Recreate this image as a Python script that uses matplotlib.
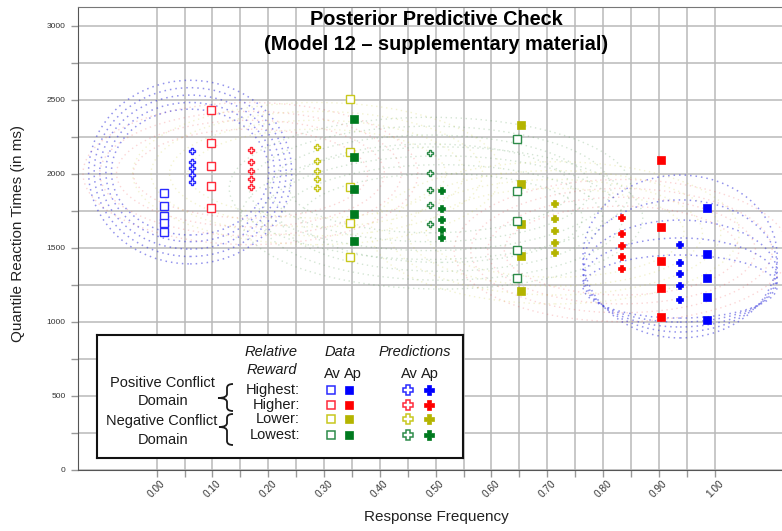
import numpy as np
import matplotlib
matplotlib.use("Agg")
import matplotlib.pyplot as plt
from matplotlib.patches import Ellipse, PathPatch
from matplotlib.path import Path

plt.rcParams["font.family"] = ["Liberation Sans", "DejaVu Sans"]

# ---------------------------------------------------------------- data
reward_levels = ["Highest", "Higher", "Lower", "Lowest"]

# observed quantile RTs (ms) at their response frequencies
data_av_freq = [0.014, 0.097, 0.346, 0.646]
data_av_rt = [
    [1867, 1783, 1711, 1664, 1606],
    [2429, 2204, 2051, 1916, 1769],
    [2503, 2148, 1907, 1664, 1439],
    [2231, 1884, 1680, 1484, 1297],
]
data_ap_freq = [0.987, 0.903, 0.653, 0.354]
data_ap_rt = [
    [1765, 1457, 1293, 1168, 1011],
    [2092, 1637, 1411, 1225, 1033],
    [2330, 1927, 1657, 1445, 1209],
    [2366, 2112, 1898, 1725, 1547],
]

# model predictions
pred_av_freq = [0.063, 0.169, 0.287, 0.490]
pred_av_rt = [
    [2154, 2080, 2035, 1990, 1943],
    [2159, 2078, 2019, 1963, 1911],
    [2177, 2087, 2019, 1963, 1900],
    [2137, 2006, 1889, 1790, 1659],
]
pred_ap_freq = [0.938, 0.833, 0.714, 0.511]
pred_ap_rt = [
    [1518, 1398, 1320, 1243, 1146],
    [1698, 1592, 1513, 1439, 1355],
    [1794, 1693, 1612, 1533, 1461],
    [1882, 1759, 1684, 1619, 1563],
]

# posterior predictive spread: contour rings (centre freq, centre rt,
# half-width in frequency, half-height in ms)
ring_hi_av_freq = [0.060, 0.060, 0.060, 0.060, 0.060]
ring_hi_av_rt = [2010, 2010, 2010, 2010, 2010]
ring_hi_av_hw = [0.182, 0.172, 0.162, 0.151, 0.141]
ring_hi_av_hh = [620, 570, 520, 470, 425]

ring_hi_ap_freq = [0.938, 0.938, 0.938, 0.938, 0.938]
ring_hi_ap_rt = [1440, 1376, 1325, 1281, 1237]
ring_hi_ap_hw = [0.174, 0.174, 0.174, 0.174, 0.174]
ring_hi_ap_hh = [550, 446, 361, 284, 213]

faint_ring_freq = [0.168, 0.833, 0.287, 0.714, 0.490, 0.511]
faint_ring_rt = [2000, 1480, 2000, 1600, 1900, 1700]
faint_ring_level = [1, 1, 2, 2, 3, 3]
faint_ring_hw = [0.30, 0.27, 0.24, 0.21]
faint_ring_hh = [480, 420, 360, 300]

x_ticks = [0.0, 0.1, 0.2, 0.3, 0.4, 0.5, 0.6, 0.7, 0.8, 0.9, 1.0]
y_ticks = [0, 500, 1000, 1500, 2000, 2500, 3000]

# ---------------------------------------------------------------- style
open_col = ["#2a2aff", "#ff2a3a", "#c8c81e", "#2e8b4a"]
fill_col = ["#0000ff", "#ff0000", "#b4b400", "#007a1f"]
ring_col = ["#3b3bdd", "#ee4444", "#c8c830", "#3c8a3c"]

W, H = 782, 531
fig = plt.figure(figsize=(W / 100, H / 100), dpi=100)
ax = fig.add_axes([78 / W, (H - 469.7) / H, (W - 78) / W, (469.7 - 7) / H])
ax.set_xlim(-0.141, 1.1206)
ax.set_ylim(0, 3125)

# grid
ax.set_xticks(x_ticks)
ax.set_xticklabels([f"{v:.2f}" for v in x_ticks], rotation=45,
                   ha="center", va="top", fontsize=7.3, color="#333333")
ax.set_xticks(np.arange(0.05, 1.0, 0.1), minor=True)
ax.set_yticks(y_ticks)
ax.set_yticklabels([str(v) for v in y_ticks], fontsize=6, color="#333333")
ax.set_yticks(np.arange(250, 3001, 500), minor=True)
ax.grid(True, which="both", color="#b9b9b9", lw=1.1, zorder=0)
ax.set_axisbelow(True)
ax.tick_params(axis="both", which="both", length=5, color="#999999", width=1)
ax.tick_params(axis="x", pad=1)
ax.tick_params(axis="y", pad=4)
for s in ("left", "bottom"):
    ax.spines[s].set_color("#555555")
ax.spines["top"].set_color("#777777")
ax.spines["right"].set_visible(False)

dots = (0, (1, 2.6))

# faint rings of the other reward levels
for cx, cy, lev in zip(faint_ring_freq, faint_ring_rt, faint_ring_level):
    for hw, hh in zip(faint_ring_hw, faint_ring_hh):
        scale = 1.0 + 0.1 * (lev - 1)
        ax.add_patch(Ellipse((cx, cy), 2 * hw * scale, 2 * hh, fill=False,
                             ec=ring_col[lev], lw=1.0, ls=dots, alpha=0.22,
                             zorder=1))

# highest-reward rings
for cx, cy, hw, hh in zip(ring_hi_av_freq, ring_hi_av_rt, ring_hi_av_hw, ring_hi_av_hh):
    ax.add_patch(Ellipse((cx, cy), 2 * hw, 2 * hh, fill=False, ec=ring_col[0],
                         lw=1.1, ls=dots, alpha=0.55, zorder=1))
for cx, cy, hw, hh in zip(ring_hi_ap_freq, ring_hi_ap_rt, ring_hi_ap_hw, ring_hi_ap_hh):
    ax.add_patch(Ellipse((cx, cy), 2 * hw, 2 * hh, fill=False, ec=ring_col[0],
                         lw=1.1, ls=dots, alpha=0.55, zorder=1))

# markers
for i in range(4):
    ax.plot([data_av_freq[i]] * 5, data_av_rt[i], ls="none", marker="s", ms=5.4,
            mfc="white", mec=open_col[i], mew=1.0, zorder=3)
    ax.plot([data_ap_freq[i]] * 5, data_ap_rt[i], ls="none", marker="s", ms=5.8,
            mfc=fill_col[i], mec=fill_col[i], mew=0.5, zorder=3)
    ax.plot([pred_av_freq[i]] * 5, pred_av_rt[i], ls="none", marker="P", ms=4.8,
            mfc="white", mec=open_col[i], mew=1.0, zorder=3)
    ax.plot([pred_ap_freq[i]] * 5, pred_ap_rt[i], ls="none", marker="P", ms=4.6,
            mfc=fill_col[i], mec=fill_col[i], mew=1.2, zorder=3)

fig.text(18 / W, 1 - 233 / H, "Quantile Reaction Times (in ms)", rotation=90,
         ha="center", va="center", fontsize=11, color="#222222")
fig.text(436 / W, 1 - 517 / H, "Response Frequency", ha="center", va="center",
         fontsize=11, color="#222222")

fig.text(436 / W, 1 - 25 / H, "Posterior Predictive Check", ha="center",
         va="baseline", fontsize=14.3, fontweight="bold")
fig.text(436 / W, 1 - 50 / H, "(Model 12 \u2013 supplementary material)",
         ha="center", va="baseline", fontsize=14.3, fontweight="bold")

# ---------------------------------------------------------------- legend box
x0, x1, y0, y1 = 97, 463, 335, 458
lg = fig.add_axes([x0 / W, (H - y1) / H, (x1 - x0) / W, (y1 - y0) / H])
lg.set_xlim(x0, x1)
lg.set_ylim(y1, y0)
lg.set_xticks([])
lg.set_yticks([])
for s in lg.spines.values():
    s.set_linewidth(1.5)
    s.set_color("#111111")

fs = 10.5
tc = "#1a1a1a"
lg.text(271, 352, "Relative", style="italic", ha="center", va="center", fontsize=fs, color=tc)
lg.text(271.5, 370.5, "Reward", style="italic", ha="center", va="center", fontsize=fs, color=tc)
lg.text(340, 352, "Data", style="italic", ha="center", va="center", fontsize=fs, color=tc)
lg.text(415, 352, "Predictions", style="italic", ha="center", va="center", fontsize=fs, color=tc)
for xa, xp in ((332.5, 352.5), (409, 429.5)):
    lg.text(xa, 374, "Av", ha="center", va="center", fontsize=fs, color=tc)
    lg.text(xp, 374, "Ap", ha="center", va="center", fontsize=fs, color=tc)

row_y = [390.5, 405.5, 419.5, 435]
for i, lev in enumerate(reward_levels):
    ry = row_y[i]
    lg.text(300, ry, lev + ":", ha="right", va="center", fontsize=fs, color=tc)
    lg.plot(330.5, ry, marker="s", ms=6, mfc="white", mec=open_col[i], mew=1.1)
    lg.plot(348.5, ry, marker="s", ms=6.3, mfc=fill_col[i], mec=fill_col[i], mew=0.5)
    lg.plot(407.5, ry, marker="P", ms=7.5, mfc="white", mec=open_col[i], mew=1.1)
    lg.plot(428.5, ry, marker="P", ms=7.5, mfc=fill_col[i], mec=fill_col[i], mew=0.5)

lg.text(162, 383, "Positive Conflict", ha="center", va="center", fontsize=fs, color=tc)
lg.text(163, 401, "Domain", ha="center", va="center", fontsize=fs, color=tc)
lg.text(162, 421.5, "Negative Conflict", ha="center", va="center", fontsize=fs, color=tc)
lg.text(163, 440.5, "Domain", ha="center", va="center", fontsize=fs, color=tc)


def brace(a, xs, ya, yb, ym, xt, hook=6):
    verts = [(xs + hook, ya), (xs, ya), (xs, ya + 4), (xs, ym - 4), (xs, ym),
             (xt, ym), (xs, ym), (xs, ym + 4), (xs, yb - 4), (xs, yb),
             (xs + hook, yb)]
    codes = [Path.MOVETO, Path.CURVE3, Path.CURVE3, Path.LINETO, Path.CURVE3,
             Path.CURVE3, Path.CURVE3, Path.CURVE3, Path.LINETO, Path.CURVE3,
             Path.CURVE3]
    a.add_patch(PathPatch(Path(verts, codes), fill=False, lw=1.3, ec="#1a1a1a"))


brace(lg, 227, 384, 411, 398, 218)
brace(lg, 227, 414, 445, 427, 219)

fig.savefig("out.png", dpi=100)
